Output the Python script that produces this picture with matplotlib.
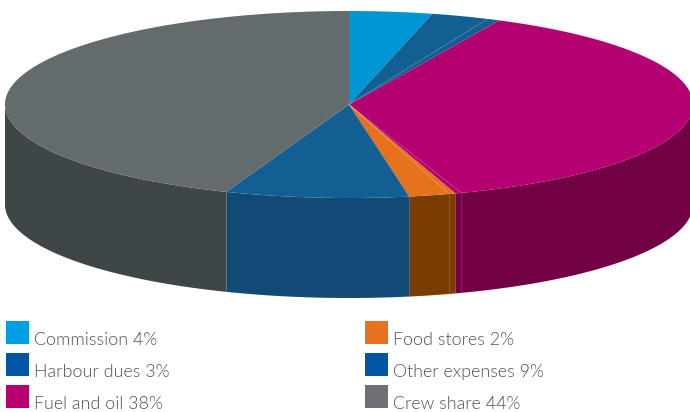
import matplotlib
matplotlib.use('Agg')
import matplotlib.pyplot as plt
from matplotlib import font_manager as fm
import numpy as np

labels = ['Commission', 'Harbour dues', 'Fuel and oil', 'Food stores', 'Other expenses', 'Crew share']
values = [4, 3, 38, 2, 9, 44]
drawn = [3.9, 3.3, 37.8, 2.2, 8.6, 44.2]
top_colors = ['#0096d6', '#135f94', '#b40071', '#e6721e', '#135f94', '#636b6d']
side_colors = ['#006f9e', '#114a75', '#720044', '#7a3c00', '#114a75', '#3f4648']
legend_colors = ['#009fe3', '#0055a4', '#b5006e', '#e6721e', '#0055a4', '#6f6f75']
# faint seams in the artwork, as cumulative percent
seams = [6.6, 44.7, 45.3]

cx, cy = 349, 104.5
a, b = 344, 93.5
depth = 100

# Lato Light by file name, weight='light' picks the hairline cut
light = [f.fname for f in fm.fontManager.ttflist if f.name == 'Lato' and f.fname.endswith('Lato-Light.ttf')]
if light:
    text_font = fm.FontProperties(fname=light[0], size=12.9)
else:
    text_font = fm.FontProperties(family='Lato', size=12.7)


def rim(t):
    return cx + a * np.sin(t), cy - b * np.cos(t)


fig = plt.figure(figsize=(6.9, 4.12), dpi=100)
ax = fig.add_axes([0, 0, 1, 1])
ax.set_xlim(0, 690)
ax.set_ylim(412, 0)
ax.axis('off')

edges = np.concatenate([[0], np.cumsum(drawn)]) / sum(drawn) * 2 * np.pi

# side wall, only the front half of the rim shows
for i in range(len(drawn)):
    t0 = max(edges[i], np.pi / 2)
    t1 = min(edges[i + 1], 3 * np.pi / 2)
    if t1 <= t0:
        continue
    t = np.linspace(t0, t1, 120)
    x, y = rim(t)
    ax.fill(np.r_[x, x[::-1]], np.r_[y, y[::-1] + depth], color=side_colors[i], lw=0)

# top face
for i in range(len(drawn)):
    t = np.linspace(edges[i], edges[i + 1], 200)
    x, y = rim(t)
    ax.fill(np.r_[cx, x], np.r_[cy, y], color=top_colors[i], lw=0)

for s in seams:
    x, y = rim(s / 100 * 2 * np.pi)
    ax.plot([cx, x], [cy, y], color='white', lw=0.5, alpha=0.3)
    if s > 25:
        ax.plot([x, x], [y, y + depth], color='white', lw=0.5, alpha=0.2)

# legend
col_x = [6, 365]
row_y = [321, 353, 385]
for i, name in enumerate(labels):
    sx = col_x[i // 3]
    sy = row_y[i % 3]
    ax.add_patch(plt.Rectangle((sx, sy), 23, 23, color=legend_colors[i], lw=0))
    ax.text(sx + 28, sy + 24, f'{name} {values[i]}%', fontproperties=text_font,
            color='#505153', va='baseline', ha='left')

fig.savefig('out.png', dpi=100)
